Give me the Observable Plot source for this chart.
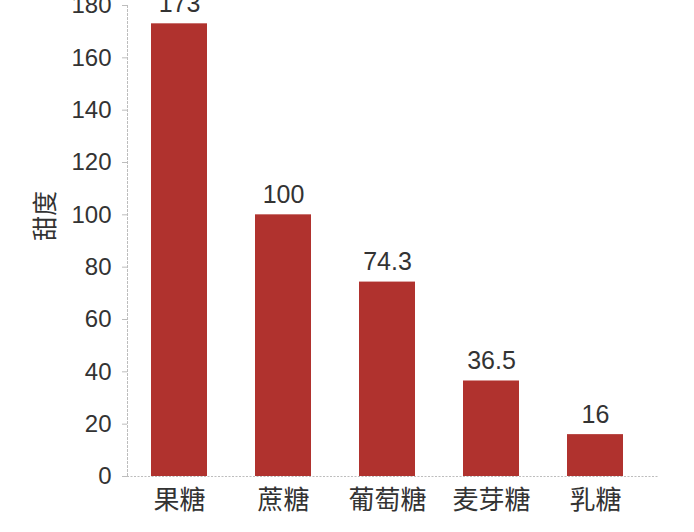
<!DOCTYPE html>
<html>
<head>
<meta charset="utf-8">
<script src="https://cdn.jsdelivr.net/npm/d3@7"></script>
<script src="https://cdn.jsdelivr.net/npm/@observablehq/plot@0.6"></script>
<style>
  html, body { margin: 0; padding: 0; background: #fff; }
  #chart svg { display: block; overflow: hidden; }
</style>
</head>
<body>
<div id="chart"></div>
<script>
const sugars = ["果糖", "蔗糖", "葡萄糖", "麦芽糖", "乳糖"];
const sweetness = [173, 100, 74.3, 36.5, 16];
const valueLabels = ["173", "100", "74.3", "36.5", "16"];
const yTicks = [0, 20, 40, 60, 80, 100, 120, 140, 160, 180];
const yLabel = "甜度";

const data = sugars.map((s, i) => ({sugar: s, value: sweetness[i], label: valueLabels[i]}));

const barColor = "#b0322e";
const axisColor = "#bdbdbd";
const textColor = "#333333";
const font = "'Liberation Sans', 'Noto Sans CJK SC', sans-serif";

const chart = Plot.plot({
  width: 694,
  height: 532,
  marginLeft: 127,
  marginRight: 47,
  marginTop: 5,
  marginBottom: 56,
  style: {fontFamily: font, color: textColor, background: "#fff", overflow: "hidden"},
  x: {domain: sugars, paddingInner: 0.46, paddingOuter: 0.23, label: null},
  y: {domain: [0, 180], label: null},
  marks: [
    Plot.barY(data, {x: "sugar", y: "value", fill: barColor}),
    Plot.frame({anchor: "left", stroke: axisColor, strokeWidth: 1, strokeDasharray: "2,2"}),
    Plot.ruleY([0], {stroke: axisColor, strokeWidth: 1.2, strokeDasharray: "2,1.5", insetRight: -12}),
    Plot.axisY(yTicks, {tickSize: 5, tickPadding: 11, stroke: axisColor, fontSize: 24, fill: textColor, label: null}),
    Plot.axisX({tickSize: 0, tickPadding: 14, fontSize: 26, fill: textColor, label: null}),
    Plot.text(data, {x: "sugar", y: "value", text: "label", lineAnchor: "bottom", dy: -12, fontSize: 25, fill: textColor}),
    Plot.text([yLabel], {frameAnchor: "left", dx: -82, dy: -25, rotate: -90, fontSize: 25, fill: textColor, lineAnchor: "middle", textAnchor: "middle"})
  ]
});
document.getElementById("chart").append(chart);
</script>
</body>
</html>
